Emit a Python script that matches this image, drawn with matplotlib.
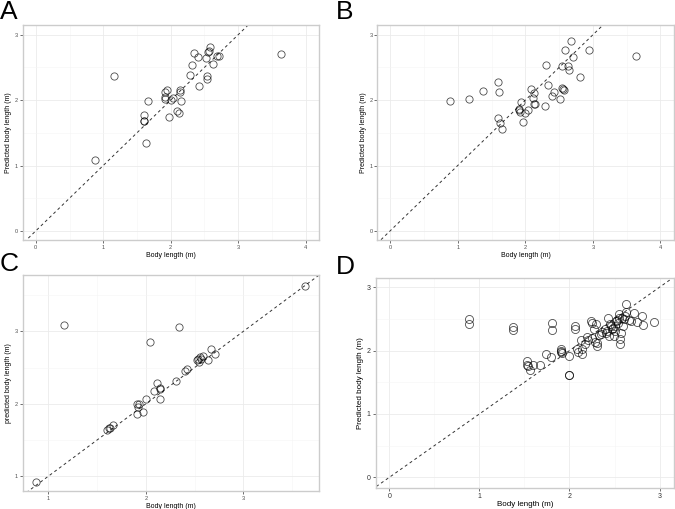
import matplotlib
matplotlib.use("Agg")
import matplotlib.pyplot as plt
import numpy as np

plt.rcParams['font.family'] = ['Liberation Sans', 'DejaVu Sans']

# ---- Panel A data ----
a_x = [0.885, 1.167, 1.60, 1.60, 1.61, 1.67, 1.63, 1.98, 1.91, 1.92, 1.94, 1.92, 2.00, 2.04,
       2.10, 2.12, 2.14, 2.14, 2.15, 2.29, 2.31, 2.35, 2.41, 2.42, 2.53, 2.54, 2.54, 2.56,
       2.57, 2.59, 2.63, 2.68, 2.72, 3.64]
a_y = [1.085, 2.37, 1.77, 1.68, 1.68, 1.98, 1.35, 1.74, 2.05, 2.13, 2.16, 2.01, 2.00, 2.04,
       1.84, 1.81, 2.13, 2.15, 1.98, 2.39, 2.54, 2.72, 2.66, 2.21, 2.65, 2.37, 2.33, 2.73,
       2.75, 2.82, 2.56, 2.68, 2.68, 2.70]

# ---- Panel B data ----
b_x = [0.88, 1.17, 1.37, 1.60, 1.61, 1.60, 1.63, 1.66, 1.90, 1.91, 1.92, 1.94, 1.97, 2.00,
       2.04, 2.09, 2.11, 2.13, 2.13, 2.14, 2.29, 2.31, 2.34, 2.40, 2.42, 2.52, 2.54, 2.55,
       2.56, 2.57, 2.59, 2.63, 2.64, 2.67, 2.71, 2.81, 2.94, 3.64]
b_y = [1.99, 2.02, 2.14, 2.28, 2.12, 1.73, 1.65, 1.56, 1.85, 1.87, 1.82, 1.97, 1.66, 1.81,
       1.85, 2.17, 2.03, 2.11, 1.94, 1.94, 1.91, 2.54, 2.23, 2.06, 2.13, 2.01, 2.52, 2.19,
       2.17, 2.15, 2.76, 2.53, 2.46, 2.90, 2.66, 2.35, 2.77, 2.67]

# ---- Panel C data ----
c_x = [0.877, 1.157, 1.60, 1.62, 1.63, 1.66, 1.91, 1.91, 1.92, 1.93, 1.97, 2.00, 2.04, 2.08,
       2.11, 2.14, 2.14, 2.14, 2.31, 2.34, 2.40, 2.42, 2.52, 2.53, 2.54, 2.55, 2.56, 2.59,
       2.64, 2.67, 2.71, 3.63]
c_y = [0.92, 3.09, 1.64, 1.66, 1.67, 1.70, 1.86, 2.00, 1.96, 1.99, 1.88, 2.07, 2.85, 2.17,
       2.28, 2.06, 2.20, 2.22, 2.32, 3.06, 2.45, 2.48, 2.60, 2.62, 2.58, 2.64, 2.62, 2.66,
       2.60, 2.76, 2.68, 3.63]

# ---- Panel D data ----
d_x = [0.884, 0.884, 1.376, 1.376, 1.805, 1.805, 2.06, 2.06,
       1.53, 1.53, 1.54, 1.56, 1.60, 1.67, 1.74, 1.80,
       1.91, 1.91, 1.91, 1.92, 2.00, 2.00, 2.00, 2.08, 2.09, 2.13, 2.14, 2.14,
       2.21, 2.24, 2.25, 2.25, 2.27, 2.29, 2.31, 2.31, 2.35, 2.39, 2.42, 2.43,
       2.44, 2.46, 2.47, 2.49, 2.50, 2.51, 2.53, 2.54, 2.55, 2.55, 2.56, 2.56,
       2.57, 2.59, 2.63, 2.63, 2.66, 2.68, 2.72, 2.75, 2.81, 2.82, 2.94,
       2.36, 2.40, 2.45, 2.48, 2.52, 2.58, 2.60, 2.62, 2.20, 2.17, 2.33, 2.28]
d_y = [2.50, 2.42, 2.37, 2.33, 2.43, 2.33, 2.39, 2.34,
       1.83, 1.78, 1.76, 1.69, 1.77, 1.77, 1.95, 1.90,
       2.03, 2.00, 1.97, 1.96, 1.92, 1.62, 1.62, 2.02, 1.98, 2.17, 2.03, 1.95,
       2.17, 2.46, 2.44, 2.20, 2.34, 2.42, 2.12, 2.07, 2.26, 2.34, 2.31, 2.52,
       2.23, 2.39, 2.34, 2.23, 2.31, 2.38, 2.48, 2.44, 2.57, 2.51, 2.18, 2.11,
       2.28, 2.38, 2.73, 2.61, 2.49, 2.47, 2.59, 2.45, 2.54, 2.40, 2.45,
       2.30, 2.27, 2.42, 2.36, 2.46, 2.52, 2.50, 2.55, 2.22, 2.10, 2.25, 2.14]

fig = plt.figure(figsize=(6.75, 5.09), dpi=100)
W, H = 675.0, 509.0

def add_ax(l, t, r, b):
    return fig.add_axes([l / W, 1 - b / H, (r - l) / W, (b - t) / H])

def style(ax, xlim, ylim, xt, yt, xlabel, ylabel, tick_fs, lab_fs, xpad, ypad, tcol):
    ax.set_xticks(xt)
    ax.set_yticks(yt)
    ax.set_xticklabels([str(v) for v in xt])
    ax.set_yticklabels([str(v) for v in yt])
    xm = [v + 0.5 for v in xt[:-1]] + [xt[0] - 0.5, xt[-1] + 0.5]
    ym = [v + 0.5 for v in yt[:-1]] + [yt[0] - 0.5, yt[-1] + 0.5]
    ax.set_xticks(xm, minor=True)
    ax.set_yticks(ym, minor=True)
    ax.set_xlim(*xlim)
    ax.set_ylim(*ylim)
    ax.grid(True, which='major', color='#ebebeb', linewidth=0.6)
    ax.grid(True, which='minor', color='#f5f5f5', linewidth=0.4)
    ax.tick_params(which='minor', length=0)
    ax.tick_params(which='major', length=2, width=0.5, color='#333333',
                   labelsize=tick_fs, labelcolor=tcol, pad=1.5)
    ax.set_axisbelow(True)
    for s in ax.spines.values():
        s.set_color('#cccccc')
        s.set_linewidth(1.0)
    ax.set_xlabel(xlabel, fontsize=lab_fs, labelpad=xpad)
    ax.set_ylabel(ylabel, fontsize=lab_fs, labelpad=ypad)
    lo = min(xlim[0], ylim[0]) - 1
    hi = max(xlim[1], ylim[1]) + 1
    ax.plot([lo, hi], [lo, hi], linestyle=(0, (3, 3)), color='#333333',
            linewidth=0.7, zorder=2, scalex=False, scaley=False)

def pts(ax, x, y, ms):
    ax.plot(x, y, 'o', markersize=ms, markerfacecolor='none',
            markeredgecolor=(0, 0, 0, 0.7), markeredgewidth=0.6, zorder=3,
            scalex=False, scaley=False)

axA = add_ax(23, 25, 319, 240)
style(axA, (-0.19, 4.2), (-0.14, 3.15), [0, 1, 2, 3, 4], [0, 1, 2, 3],
      'Body length (m)', 'Predicted body length (m)', 4.0, 5.0, 1.5, 2, '#4d4d4d')
pts(axA, a_x, a_y, 5.2)

axB = add_ax(377.3, 25, 674, 240)
style(axB, (-0.19, 4.2), (-0.14, 3.15), [0, 1, 2, 3, 4], [0, 1, 2, 3],
      'Body length (m)', 'Predicted body length (m)', 4.0, 5.0, 1.5, 2, '#4d4d4d')
pts(axB, b_x, b_y, 5.2)

axC = add_ax(23, 275, 319, 490.7)
style(axC, (0.74, 3.775), (0.80, 3.777), [1, 2, 3], [1, 2, 3],
      'Body length (m)', 'predicted body length (m)', 4.0, 5.0, 1.5, 2, '#4d4d4d')
pts(axC, c_x, c_y, 5.2)

axD = add_ax(375.7, 278.3, 674, 488)
style(axD, (-0.15, 3.16), (-0.167, 3.14), [0, 1, 2, 3], [0, 1, 2, 3],
      'Body length (m)', 'Predicted body length (m)', 5.0, 5.8, 0.8, 2, '#333333')
pts(axD, d_x, d_y, 5.8)

for lab, x, y in [('A', 0, 19), ('B', 336, 19), ('C', 0, 271), ('D', 336, 274)]:
    fig.text(x / W, 1 - y / H, lab, fontsize=19, va='baseline', ha='left')

fig.savefig('out.png', dpi=100)
